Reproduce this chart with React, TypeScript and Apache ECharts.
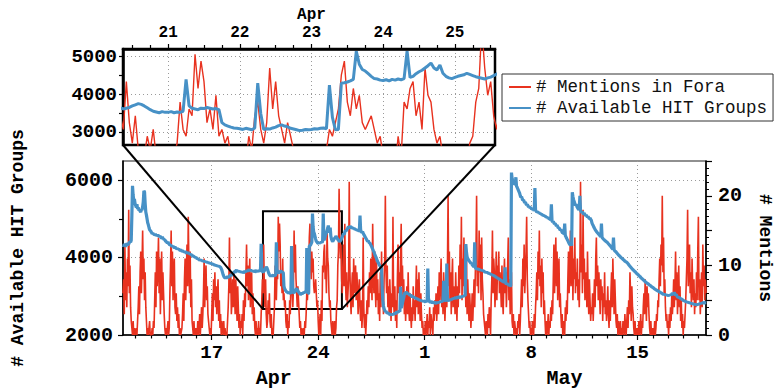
import React, { useEffect, useRef } from 'react';
import * as echarts from 'echarts';

// hourly samples; first sample = Apr 11, 04:00 (x axis unit: days since Apr 11 00:00)
const START_HOUR = 4;

// # Mentions in Fora (hourly, one row per day)
const mentions = [
  6, 8, 3, 13, 5, 9, 4, 11, 7, 18, 6, 10, 4, 2, 1, 0, 2, 0, 1, 0,
  0, 1, 0, 2, 4, 7, 3, 9, 12, 6, 10, 15, 8, 11, 5, 9, 4, 2, 0, 1, 0, 0, 2, 0,
  0, 0, 1, 0, 2, 1, 5, 9, 4, 12, 7, 10, 14, 6, 11, 3, 8, 12, 5, 9, 6, 3, 1, 0,
  1, 0, 0, 2, 0, 1, 6, 10, 15, 7, 12, 5, 9, 11, 4, 3, 6, 2, 4, 1, 3, 0, 1, 0,
  0, 1, 3, 6, 2, 8, 11, 5, 9, 13, 7, 17, 10, 6, 12, 4, 8, 2, 1, 0, 2, 0, 1, 0,
  1, 0, 2, 0, 1, 3, 0, 2, 4, 1, 3, 6, 11, 4, 8, 10, 5, 7, 3, 2, 1, 0, 1, 0,
  3, 6, 2, 8, 5, 9, 4, 7, 3, 6, 8, 2, 5, 1, 3, 0, 2, 1, 0, 2, 0, 1, 0, 0,
  0, 2, 4, 7, 14, 6, 9, 3, 5, 8, 4, 9, 6, 3, 8, 5, 2, 7, 4, 1, 3, 0, 2, 1,
  3, 0, 5, 2, 6, 4, 9, 13, 7, 10, 5, 8, 11, 4, 7, 9, 3, 6, 2, 4, 1, 0, 2, 0,
  1, 0, 2, 0, 1, 0, 3, 5, 8, 6, 13, 7, 4, 8, 3, 1, 2, 5, 3, 6, 2, 1, 3, 0,
  1, 0, 2, 4, 10, 6, 5, 9, 8, 17, 12, 16, 13, 7, 9, 6, 11, 5, 6, 4, 5, 2, 1, 3,
  0, 2, 1, 5, 3, 8, 10, 6, 4, 7, 15, 9, 13, 8, 6, 4, 7, 5, 3, 1, 2, 0, 1, 0,
  0, 1, 0, 2, 1, 3, 6, 5, 7, 9, 14, 16, 10, 8, 12, 9, 11, 7, 6, 7, 8, 6, 4, 5,
  2, 0, 1, 3, 0, 5, 2, 10, 9, 12, 13, 8, 10, 6, 15, 11, 10, 6, 4, 5, 2, 1, 0, 2,
  1, 0, 2, 0, 1, 4, 5, 10, 12, 21, 15, 11, 13, 8, 6, 9, 13, 7, 16, 8, 5, 9, 4, 6,
  8, 22, 10, 5, 3, 7, 9, 4, 11, 6, 8, 10, 5, 9, 7, 3, 6, 8, 4, 2, 5, 1, 3, 14,
  4, 1, 3, 0, 2, 5, 3, 7, 4, 9, 6, 11, 8, 5, 16, 9, 6, 12, 7, 4, 11, 5, 8, 3,
  6, 2, 9, 4, 12, 5, 7, 3, 8, 11, 20, 9, 6, 10, 4, 7, 3, 8, 5, 2, 6, 4, 17, 5,
  3, 7, 2, 5, 1, 8, 13, 6, 9, 4, 11, 16, 7, 10, 5, 8, 3, 6, 2, 5, 7, 3, 9, 4,
  2, 6, 3, 1, 4, 2, 7, 3, 5, 2, 6, 10, 4, 8, 3, 9, 5, 2, 6, 3, 1, 2, 0, 1,
  0, 2, 0, 1, 3, 0, 2, 1, 4, 0, 3, 2, 1, 0, 4, 2, 5, 3, 6, 2, 4, 7, 3, 9,
  5, 8, 11, 4, 7, 3, 9, 6, 2, 5, 8, 4, 10, 20, 7, 12, 5, 9, 3, 8, 11, 4, 7, 6,
  3, 9, 5, 2, 7, 4, 10, 6, 13, 8, 17, 5, 11, 7, 14, 6, 9, 4, 12, 3, 8, 5, 2, 6,
  4, 1, 3, 6, 2, 5, 8, 4, 9, 12, 20, 7, 10, 6, 15, 9, 13, 5, 14, 8, 6, 3, 2, 1,
  0, 2, 1, 0, 3, 1, 4, 2, 0, 5, 8, 15, 6, 11, 9, 4, 7, 12, 5, 10, 8, 12, 6, 9,
  7, 4, 10, 5, 3, 8, 11, 6, 9, 4, 7, 10, 14, 5, 8, 3, 6, 9, 2, 1, 3, 0, 2, 1,
  0, 1, 0, 2, 1, 3, 0, 2, 5, 8, 4, 11, 7, 13, 6, 9, 12, 17, 8, 5, 3, 1, 2, 0,
  1, 0, 2, 1, 0, 3, 1, 4, 6, 9, 5, 12, 8, 15, 7, 10, 4, 11, 6, 9, 3, 5, 2, 0,
  2, 0, 1, 3, 0, 2, 1, 4, 2, 5, 3, 8, 13, 6, 10, 14, 7, 12, 5, 9, 11, 4, 6, 3,
  1, 3, 0, 2, 1, 0, 4, 2, 5, 3, 8, 12, 6, 10, 15, 7, 9, 13, 5, 11, 8, 14, 6, 9,
  7, 11, 5, 8, 4, 10, 22, 9, 13, 6, 18, 8, 11, 5, 7, 9, 4, 12, 6, 3, 8, 5, 2, 4,
  3, 6, 2, 5, 8, 4, 11, 14, 7, 10, 5, 9, 6, 3, 8, 5, 7, 2, 6, 4, 9, 3, 5, 2,
  4, 7, 3, 1, 5, 2, 6, 9, 4, 11, 7, 3, 8, 5, 2, 1, 3, 0, 2, 1, 0, 2, 0, 1,
  0, 2, 1, 0, 3, 1, 0, 2, 4, 1, 5, 3, 9, 6, 2, 7, 4, 3, 1, 0, 2, 0, 1, 0,
  1, 0, 2, 0, 1, 3, 0, 2, 1, 4, 6, 3, 8, 5, 2, 7, 4, 6, 3, 1, 0, 2, 0, 1,
  0, 1, 0, 2, 0, 1, 3, 2, 5, 4, 8, 11, 7, 13, 10, 20, 9, 14, 6, 8, 4, 2, 3, 1,
  2, 0, 3, 1, 4, 2, 6, 3, 5, 8, 4, 7, 12, 5, 9, 3, 6, 10, 4, 7, 2, 5, 1, 3,
  0, 2, 1, 3, 5, 8, 11, 18, 7, 10, 13, 6, 9, 4, 11, 7, 5, 8, 3, 6, 4, 9, 5, 12,
  17, 5, 8, 3, 6, 9, 4, 13, 7, 10, 5, 8, 6,
];

// # Available HIT Groups (hourly, one row per day)
const hitGroups = [
  4320, 4300, 4350, 4330, 4280, 4340, 4360, 4310, 4380, 4350, 4390, 4420, 4400, 4450, 5100, 5860, 5620, 5480, 5520, 5400,
  5350, 5300, 5380, 5260, 5300, 5220, 5250, 5200, 5180, 5250, 5230, 5320, 5450, 5730, 5700, 5400, 5180, 5100, 5000, 4900, 4850, 4780, 4720, 4700,
  4680, 4650, 4620, 4640, 4600, 4610, 4580, 4620, 4570, 4590, 4560, 4600, 4550, 4570, 4530, 4560, 4520, 4500, 4540, 4480, 4500, 4460, 4470, 4430,
  4420, 4400, 4380, 4410, 4360, 4350, 4320, 4340, 4300, 4310, 4280, 4300, 4270, 4260, 4290, 4240, 4250, 4220, 4240, 4210, 4230, 4200, 4190, 4210,
  4180, 4170, 4190, 4150, 4160, 4140, 4170, 4130, 4120, 4150, 4110, 4130, 4100, 4110, 4080, 4100, 4060, 4070, 4040, 4050, 4020, 4030, 4000, 4010,
  3990, 3970, 3980, 3950, 3960, 3930, 3950, 3920, 3940, 3910, 3920, 3900, 3920, 3890, 3900, 3880, 3900, 3870, 3880, 3860, 3870, 3850, 3860, 3840,
  3850, 3830, 3840, 3810, 3820, 3800, 3810, 3790, 3800, 3780, 3790, 3770, 3780, 3760, 3750, 3720, 3680, 3620, 3560, 3520, 3490, 3480, 3500, 3470,
  3490, 3510, 3480, 3520, 3500, 3540, 3560, 3530, 3570, 3600, 3590, 3620, 3640, 3610, 3660, 3680, 3650, 3670, 3640, 3660, 3630, 3650, 3620, 3640,
  3610, 3640, 3600, 3630, 3650, 3620, 3660, 3640, 3680, 3650, 3670, 3700, 3660, 3690, 3650, 3680, 3640, 3670, 3630, 3660, 3620, 3650, 3680, 3640,
  3660, 3630, 3670, 3640, 3680, 3700, 4360, 3720, 3650, 3620, 3640, 3660, 3700, 3730, 3760, 3740, 3700, 3650, 3600, 3560, 3540, 3520, 3550, 3530,
  3530, 3550, 3520, 3540, 3530, 3560, 4400, 3700, 3640, 3620, 3600, 3640, 3630, 3660, 3640, 3620, 3630, 3600, 3260, 3200, 3170, 3140, 3120, 3110,
  3100, 3080, 3110, 3090, 3070, 3120, 4300, 3500, 3080, 3100, 3090, 3120, 3140, 3180, 3200, 3170, 3150, 3110, 3090, 3070, 3050, 3060, 3080, 3070,
  3080, 3100, 3090, 3110, 3120, 3100, 4250, 3400, 3070, 3080, 4300, 4310, 4330, 4360, 4400, 5140, 4800, 4660, 4620, 4550, 4480, 4420, 4410, 4380,
  4370, 4390, 4360, 4400, 4380, 4410, 4390, 4420, 5140, 4450, 4480, 4550, 4600, 4640, 4700, 4760, 4830, 4700, 4650, 4780, 4560, 4480, 4440, 4420,
  4450, 4480, 4500, 4520, 4560, 4530, 4500, 4470, 4450, 4430, 4410, 4440, 4460, 4500, 4540, 4580, 4620, 4600, 4650, 4700, 4680, 4740, 4720, 4780,
  4800, 4760, 4790, 4820, 4770, 4800, 4750, 4780, 4740, 4770, 4720, 4750, 4700, 4730, 4690, 4720, 4680, 4700, 5090, 4720, 4670, 4650, 4680, 4630,
  4600, 4570, 4540, 4510, 4480, 4450, 4420, 4440, 4400, 4380, 4370, 4330, 4300, 4260, 4220, 4180, 4150, 4100, 4060, 4020, 3980, 3930, 3900, 3860,
  3830, 3800, 3780, 3750, 3720, 3200, 2900, 2750, 2680, 2640, 2600, 2620, 2580, 2560, 2590, 2540, 2560, 2520, 2530, 2510, 2540, 2520, 2550, 2530,
  2550, 2570, 2540, 2580, 2600, 2570, 2610, 2590, 2630, 2600, 3250, 2700, 2750, 2820, 2900, 2960, 3050, 3100, 3080, 3120, 3060, 3090, 3050, 3070,
  3040, 3020, 3050, 3000, 2980, 3010, 2970, 2990, 2950, 2970, 2940, 2960, 2920, 2950, 2900, 2930, 2890, 2910, 2880, 2900, 2870, 2890, 2860, 2880,
  2870, 2850, 2880, 2860, 2890, 3720, 2950, 2880, 2860, 2840, 2870, 2850, 2830, 2860, 2840, 2820, 2850, 2830, 2810, 2840, 2820, 2850, 2830, 2860,
  2840, 2870, 2850, 2880, 2860, 2900, 3400, 2920, 2880, 2900, 2870, 3850, 2950, 2900, 2880, 2910, 2890, 2930, 2900, 2940, 2920, 2960, 2930, 2970,
  2950, 2980, 2940, 2970, 2990, 2950, 2980, 3000, 2960, 2990, 2970, 3010, 2980, 3020, 2990, 3030, 3010, 4350, 4150, 4020, 3980, 3950, 3920, 3900,
  3880, 3850, 3870, 3820, 3800, 3780, 3760, 4400, 3740, 3720, 3700, 3730, 3690, 3710, 3680, 3700, 3670, 3690, 3660, 3680, 3650, 3670, 3640, 3620,
  3630, 3610, 3640, 3600, 3620, 3580, 3600, 3570, 3590, 3550, 3570, 3540, 3560, 3520, 3540, 3500, 3520, 3480, 3500, 3460, 3480, 3440, 3460, 3420,
  3430, 3400, 3410, 3380, 3390, 3360, 3370, 3750, 3340, 3320, 3340, 3300, 3310, 3280, 3300, 3260, 3280, 6200, 6050, 5980, 5950, 5900, 5920, 5880,
  6080, 5850, 5820, 5780, 5740, 5700, 5660, 5600, 5560, 5580, 5520, 5480, 5500, 5450, 5420, 5440, 5390, 5360, 5380, 5340, 5310, 5330, 5290, 5300,
  5280, 5250, 5270, 5230, 5250, 5210, 5800, 5230, 5200, 5180, 5200, 5160, 5180, 5140, 5160, 5120, 5140, 5100, 5120, 5080, 5100, 5070, 5090, 5050,
  5060, 5030, 5050, 5010, 5030, 4990, 5000, 4970, 5380, 4950, 4920, 4940, 4900, 4870, 4890, 4850, 4820, 4840, 4800, 4770, 4780, 4740, 4710, 4730,
  4690, 4660, 4630, 4650, 4600, 4880, 4570, 4540, 4500, 4470, 4440, 4400, 4370, 4340, 4320, 4350, 4310, 5690, 5580, 5500, 5450, 5400, 5350, 5380,
  5330, 5300, 5270, 5240, 5260, 5600, 5220, 5190, 5170, 5190, 5150, 5130, 5150, 5110, 5090, 5110, 5070, 5050, 5070, 5030, 5010, 5030, 4990, 4970,
  4900, 4860, 4830, 4790, 4760, 4730, 4700, 4680, 4660, 4640, 4620, 4600, 4580, 4560, 4540, 4880, 4520, 4500, 4480, 4470, 4450, 4440, 4420, 4410,
  4400, 4380, 4360, 4340, 4320, 4300, 4280, 4260, 4240, 4220, 4520, 4200, 4180, 4160, 4150, 4130, 4110, 4090, 4070, 4050, 4040, 4020, 4000, 3990,
  3970, 3960, 3940, 3930, 3910, 3900, 3890, 3880, 3860, 3840, 3820, 3800, 3780, 3760, 3740, 3720, 3700, 3690, 3670, 3650, 3640, 3620, 3600, 3590,
  3570, 3560, 3540, 3520, 3510, 3490, 3470, 3460, 3440, 3430, 3410, 3400, 3380, 3370, 3350, 3340, 3330, 3320, 3300, 3290, 3280, 3270, 3250, 3240,
  3230, 3220, 3200, 3190, 3180, 3170, 3160, 3150, 3140, 3130, 3120, 3110, 3100, 3090, 3080, 3070, 3060, 3050, 3060, 3040, 3050, 3030, 3040, 3020,
  3030, 3010, 3040, 3020, 3050, 3030, 3060, 3080, 3040, 3070, 3100, 3060, 3030, 3050, 3010, 2990, 2970, 2990, 2950, 2960, 2930, 2950, 2910, 2920,
  2900, 2880, 2890, 2860, 2870, 2850, 2860, 2840, 2850, 2830, 2840, 2820, 2830, 2810, 2820, 2800, 2810, 2790, 2800, 2780, 2790, 2770, 2790, 2780,
  2800, 2790, 2820, 2800, 2830, 2810, 2840, 2820, 2850, 2830, 2820, 2840, 2830,
];

// axis ranges (days since Apr 11 00:00)
const X_RANGE = [0.1667, 38.5];
const HIT_RANGE = [2000, 6500];
const MENTION_RANGE = [0, 25];
const ZOOM_X = [9.37, 14.56];
const ZOOM_Y = [2670, 5200];

// tick positions / labels
const weekTicks = [6, 13, 20, 27, 34];
const dayTicks = [1, 2, 3, 4, 5, 7, 8, 9, 10, 11, 12, 14, 15, 16, 17, 18, 19, 21, 22, 23, 24, 25, 26, 28, 29, 30, 31, 32, 33, 35, 36, 37, 38];
const monthLabelPos = [10.08, 29.2];
const monthNames = ['Apr', 'May'];
const hitMajor = [2000, 4000, 6000];
const hitMinor = [3000, 5000];
const insetDayTicks = [10, 11, 12, 13, 14];
const insetQuarterTicks = [9.5, 9.75, 10.25, 10.5, 10.75, 11.25, 11.5, 11.75, 12.25, 12.5, 12.75, 13.25, 13.5, 13.75, 14.25, 14.5];
const insetHitMajor = [3000, 4000, 5000];
const insetHitMinor = [3500, 4500];

const RED_NAME = '# Mentions in Fora';
const BLUE_NAME = '# Available HIT Groups';
const RED = '#e8321f';
const BLUE = '#4791c6';
const MONO = '"Liberation Mono", "DejaVu Sans Mono", monospace';

const dayLabel = (v: number) => String(v < 20 ? Math.round(v) + 11 : Math.round(v) - 19);
const plain = (v: number) => String(v);

export default function App() {
  const ref = useRef<HTMLDivElement>(null);
  useEffect(() => {
    if (!ref.current) return;
    const chart = echarts.init(ref.current, undefined, { renderer: 'svg' });
    const redData = mentions.map((v, i) => [(START_HOUR + i) / 24, v]);
    const blueData = hitGroups.map((v, i) => [(START_HOUR + i) / 24, v]);
    const scale = (HIT_RANGE[1] - HIT_RANGE[0]) / (MENTION_RANGE[1] - MENTION_RANGE[0]);
    const insetMention = [(ZOOM_Y[0] - HIT_RANGE[0]) / scale, (ZOOM_Y[1] - HIT_RANGE[0]) / scale];

    const dotted = { show: true, lineStyle: { color: '#9a9a9a', type: [1, 3], width: 1 } };
    const boldLabel = { fontFamily: MONO, fontWeight: 'bold', color: '#000' };
    const tickStyle = { color: '#000', width: 1.2 };
    const off = { show: false };

    const mainX = { type: 'value', gridIndex: 0, position: 'bottom', min: X_RANGE[0], max: X_RANGE[1], axisLine: off, axisTick: off, axisLabel: off, splitLine: off };
    const insetX = { type: 'value', gridIndex: 1, position: 'top', min: ZOOM_X[0], max: ZOOM_X[1], axisLine: off, axisTick: off, axisLabel: off, splitLine: off };
    const mainY = { type: 'value', gridIndex: 0, position: 'left', min: HIT_RANGE[0], max: HIT_RANGE[1], axisLine: off, axisTick: off, axisLabel: off, splitLine: off };
    const insetY = { type: 'value', gridIndex: 1, position: 'left', min: ZOOM_Y[0], max: ZOOM_Y[1], axisLine: off, axisTick: off, axisLabel: off, splitLine: off };

    const option: any = {
      animation: false,
      backgroundColor: '#fff',
      grid: [
        { left: 123, top: 161, width: 583, height: 174, show: true, borderColor: '#222', borderWidth: 1.2, containLabel: false, outerBoundsMode: 'none' },
        { left: 123, top: 49, width: 372, height: 96, show: true, borderColor: '#000', borderWidth: 2.5, containLabel: false, outerBoundsMode: 'none' },
      ],
      legend: {
        data: [RED_NAME, BLUE_NAME],
        orient: 'vertical',
        left: 502,
        top: 74,
        padding: [4, 6, 4, 6],
        itemGap: 3,
        itemWidth: 22,
        itemHeight: 14,
        backgroundColor: '#fff',
        borderColor: '#333',
        borderWidth: 1,
        borderRadius: 0,
        selectedMode: false,
        itemStyle: { opacity: 0, borderWidth: 0 },
        textStyle: { fontFamily: MONO, fontSize: 17.5, color: '#111' },
      },
      xAxis: [
        {
          ...mainX,
          axisLine: { show: true, lineStyle: { color: '#000', width: 1.5 } },
          axisTick: { show: true, customValues: weekTicks, length: 5, lineStyle: tickStyle },
          axisLabel: { show: true, customValues: weekTicks, formatter: dayLabel, fontSize: 19, margin: 8, ...boldLabel },
          splitLine: dotted,
        },
        { ...mainX, axisTick: { show: true, customValues: dayTicks, length: 3.5, lineStyle: tickStyle } },
        {
          ...mainX,
          axisLabel: { show: true, customValues: monthLabelPos, formatter: (v: number) => monthNames[v < 20 ? 0 : 1], fontSize: 20, margin: 33, ...boldLabel },
        },
        {
          ...insetX,
          axisLine: { show: true, lineStyle: { color: '#000', width: 2.5 } },
          axisTick: { show: true, customValues: insetDayTicks, length: 5, lineStyle: tickStyle },
          axisLabel: { show: true, customValues: insetDayTicks, formatter: (v: number) => String(Math.round(v) + 11), fontSize: 16, margin: 8, ...boldLabel },
          splitLine: dotted,
        },
        { ...insetX, axisTick: { show: true, customValues: insetQuarterTicks, length: 4, lineStyle: tickStyle } },
        {
          ...insetX,
          axisLabel: { show: true, customValues: [12], formatter: () => monthNames[0], fontSize: 16, margin: 26, ...boldLabel },
        },
      ],
      yAxis: [
        {
          ...mainY,
          axisLine: { show: true, lineStyle: { color: '#000', width: 1.5 } },
          axisTick: { show: true, customValues: hitMajor, length: 5, lineStyle: tickStyle },
          axisLabel: { show: true, customValues: hitMajor, formatter: plain, fontSize: 20, margin: 10, ...boldLabel },
          splitLine: dotted,
          name: BLUE_NAME,
          nameLocation: 'middle',
          nameGap: 96,
          nameTextStyle: { fontSize: 18, ...boldLabel },
        },
        { ...mainY, axisTick: { show: true, customValues: hitMinor, length: 4, lineStyle: tickStyle } },
        {
          type: 'value',
          gridIndex: 0,
          position: 'right',
          min: MENTION_RANGE[0],
          max: MENTION_RANGE[1],
          interval: 5,
          axisLine: { show: true, lineStyle: { color: '#000', width: 1.5 } },
          axisTick: { show: true, length: 6, lineStyle: tickStyle },
          minorTick: { show: true, splitNumber: 5, length: 3, lineStyle: { color: '#000', width: 1 } },
          axisLabel: { show: true, formatter: (v: number) => (v % 10 === 0 ? String(v) : ''), fontSize: 20, margin: 12, ...boldLabel },
          splitLine: off,
          name: '# Mentions',
          nameLocation: 'middle',
          nameRotate: -90,
          nameGap: 50,
          nameTextStyle: { fontSize: 18, ...boldLabel },
        },
        {
          ...insetY,
          axisLine: { show: true, lineStyle: { color: '#000', width: 2.5 } },
          axisTick: { show: true, customValues: insetHitMajor, length: 4, lineStyle: tickStyle },
          axisLabel: { show: true, customValues: insetHitMajor, formatter: plain, fontSize: 19, margin: 6, ...boldLabel },
          splitLine: dotted,
        },
        { ...insetY, axisTick: { show: true, customValues: insetHitMinor, length: 4, lineStyle: tickStyle } },
        { type: 'value', gridIndex: 1, position: 'right', show: false, min: insetMention[0], max: insetMention[1] },
      ],
      series: [
        {
          name: RED_NAME, type: 'line', xAxisIndex: 0, yAxisIndex: 2, data: redData,
          symbol: 'none', lineStyle: { color: RED, width: 1.6 }, itemStyle: { color: RED }, z: 2,
        },
        {
          name: BLUE_NAME, type: 'line', xAxisIndex: 0, yAxisIndex: 0, data: blueData,
          symbol: 'none', lineStyle: { color: BLUE, width: 3.2 }, itemStyle: { color: BLUE }, z: 3,
          markArea: {
            silent: true,
            label: { show: false },
            itemStyle: { color: 'rgba(0,0,0,0)', borderColor: '#000', borderWidth: 2 },
            data: [[{ coord: [ZOOM_X[0], ZOOM_Y[0]] }, { coord: [ZOOM_X[1], ZOOM_Y[1]] }]],
          },
        },
        {
          name: RED_NAME, type: 'line', xAxisIndex: 3, yAxisIndex: 5, data: redData, clip: true,
          symbol: 'none', lineStyle: { color: RED, width: 1.4 }, itemStyle: { color: RED }, z: 2,
        },
        {
          name: BLUE_NAME, type: 'line', xAxisIndex: 3, yAxisIndex: 3, data: blueData, clip: true,
          symbol: 'none', lineStyle: { color: BLUE, width: 3 }, itemStyle: { color: BLUE }, z: 3,
        },
      ],
    };
    chart.setOption(option);

    const a = chart.convertToPixel({ seriesIndex: 3 }, [ZOOM_X[0], ZOOM_Y[0]]) as number[];
    const b = chart.convertToPixel({ seriesIndex: 1 }, [ZOOM_X[0], ZOOM_Y[0]]) as number[];
    const c = chart.convertToPixel({ seriesIndex: 3 }, [ZOOM_X[1], ZOOM_Y[0]]) as number[];
    const d = chart.convertToPixel({ seriesIndex: 1 }, [ZOOM_X[1], ZOOM_Y[0]]) as number[];
    chart.setOption({
      graphic: [
        { type: 'line', z: 100, shape: { x1: a[0], y1: a[1], x2: b[0], y2: b[1] }, style: { stroke: '#000', lineWidth: 2 } },
        { type: 'line', z: 100, shape: { x1: c[0], y1: c[1], x2: d[0], y2: d[1] }, style: { stroke: '#000', lineWidth: 2 } },
      ],
    });

    return () => chart.dispose();
  }, []);
  return <div ref={ref} style={{ position: 'absolute', left: 0, top: 0, width: 774, height: 390 }} />;
}
